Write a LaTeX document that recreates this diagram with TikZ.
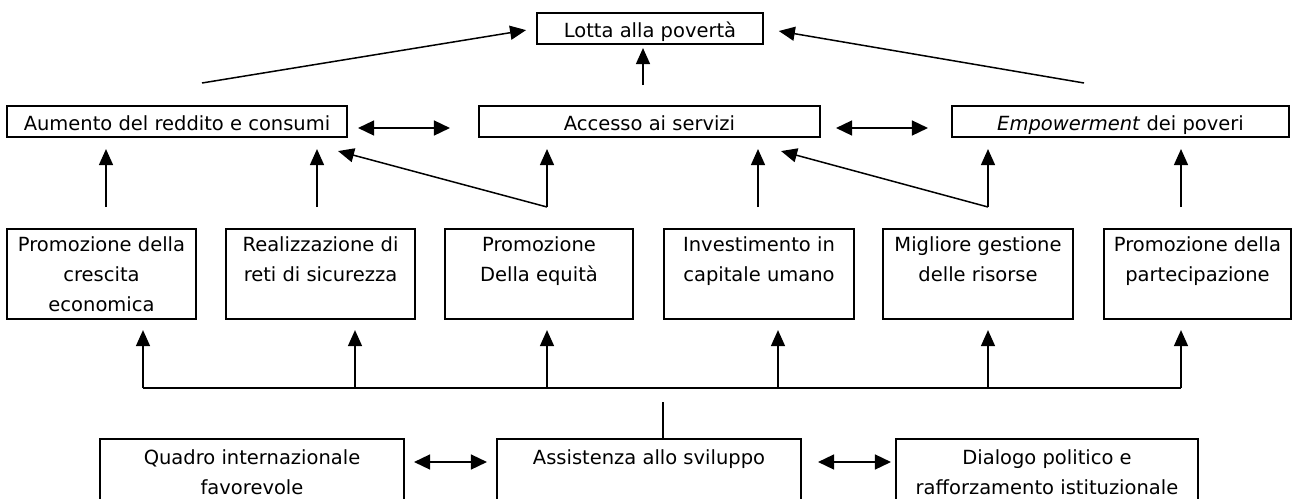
\documentclass[tikz,border=0pt]{standalone}
\usepackage{fontspec}
\setmainfont{DejaVu Sans}
\usetikzlibrary{arrows.meta}

\begin{document}
\begin{tikzpicture}[x=1pt,y=-1pt,
    box/.style={draw,line width=2.1pt,inner sep=0pt,font=\fontsize{19.5}{30}\selectfont},
    flat/.style={box,minimum height=31pt,text height=17pt,text depth=0pt},
    tall/.style={box,align=center,minimum height=90pt,anchor=north},
    arr/.style={line width=1.5pt,-{Triangle[length=16pt,width=14pt]}},
    dbl/.style={line width=1.5pt,{Triangle[length=16pt,width=15pt]}-{Triangle[length=16pt,width=15pt]}}]
  \useasboundingbox (0,0) rectangle (1293,498);
  \clip (0,0) rectangle (1293,498);
  % obiettivo e risultati
  \node[flat,minimum width=226pt] (lotta) at (650,28.5) {Lotta alla povertà};
  \node[flat,minimum width=340pt] (reddito) at (177,121.5) {Aumento del reddito e consumi};
  \node[flat,minimum width=341pt] (accesso) at (649.5,121.5) {Accesso ai servizi};
  \node[flat,minimum width=337pt] (empow) at (1120.5,121.5) {\textit{Empowerment} dei poveri};
  % strategie
  \node[tall,minimum width=189pt] (p1) at (101.5,228) {Promozione della\\crescita\\economica};
  \node[tall,minimum width=189pt] (p2) at (320.5,228) {Realizzazione di\\reti di sicurezza\\\mbox{}};
  \node[tall,minimum width=188pt] (p3) at (539,228) {Promozione\\Della equità\\\mbox{}};
  \node[tall,minimum width=190pt] (p4) at (759,228) {Investimento in\\capitale umano\\\mbox{}};
  \node[tall,minimum width=190pt] (p5) at (978,228) {Migliore gestione\\delle risorse\\\mbox{}};
  \node[tall,minimum width=187pt] (p6) at (1197.5,228) {Promozione della\\partecipazione\\\mbox{}};
  % strumenti
  \node[tall,minimum width=304pt,minimum height=96pt] (quadro) at (252,438) {Quadro internazionale\\favorevole\\\mbox{}};
  \node[tall,minimum width=304pt,minimum height=96pt] (assist) at (649,438) {Assistenza allo sviluppo\\\mbox{}\\\mbox{}};
  \node[tall,minimum width=302pt,minimum height=96pt] (dialogo) at (1047,438) {Dialogo politico e\\rafforzamento istituzionale\\\mbox{}};
  % verso la lotta alla poverta
  \coordinate (s1) at (202,83);
  \coordinate (s2) at (643,85);
  \coordinate (s3) at (1084,83);
  \draw[arr,shorten >=10pt] (s1) -- (lotta.west);
  \draw[arr,shorten >=3pt] (s2) -- (s2 |- lotta.south);
  \draw[arr,shorten >=15pt] (s3) -- (lotta.east);
  \draw[dbl,shorten <=10pt,shorten >=28pt] (reddito.east |- 0,128) -- (accesso.west |- 0,128);
  \draw[dbl,shorten <=15pt,shorten >=23pt] (accesso.east |- 0,128) -- (empow.west |- 0,128);
  % strategie -> risultati
  \foreach \x/\a/\b in {106/p1/reddito,317/p2/reddito,547/p3/accesso,758/p4/accesso,988/p5/empow,1181/p6/empow}
    \draw[arr,shorten <=21pt,shorten >=11pt] (\x,0 |- \a.north) -- (\x,0 |- \b.south);
  \path (547,0 |- p3.north) ++(0,-21) coordinate (q3);
  \path (988,0 |- p5.north) ++(0,-21) coordinate (q5);
  \draw[arr] (q3) -- ([xshift=-10pt,yshift=-13pt]reddito.south east);
  \draw[arr] (q5) -- ([xshift=-40pt,yshift=-13pt]accesso.south east);
  % barra di distribuzione
  \coordinate (bl) at (143,388);
  \coordinate (br) at (1181,388);
  \draw[line width=2pt] (bl) -- (br);
  \foreach \x/\p in {143/p1,355/p2,547/p3,778/p4,988/p5,1181/p6}
    \draw[arr,shorten >=10pt] (\x,0 |- bl) -- (\x,0 |- \p.south);
  \draw[line width=1.5pt] (663,0 |- assist.north) -- ++(0,-36);
  \draw[dbl,shorten <=9pt,shorten >=9pt] (quadro.east |- 0,462) -- (assist.west |- 0,462);
  \draw[dbl,shorten <=16pt,shorten >=4pt] (assist.east |- 0,462) -- (dialogo.west |- 0,462);
\end{tikzpicture}
\end{document}
